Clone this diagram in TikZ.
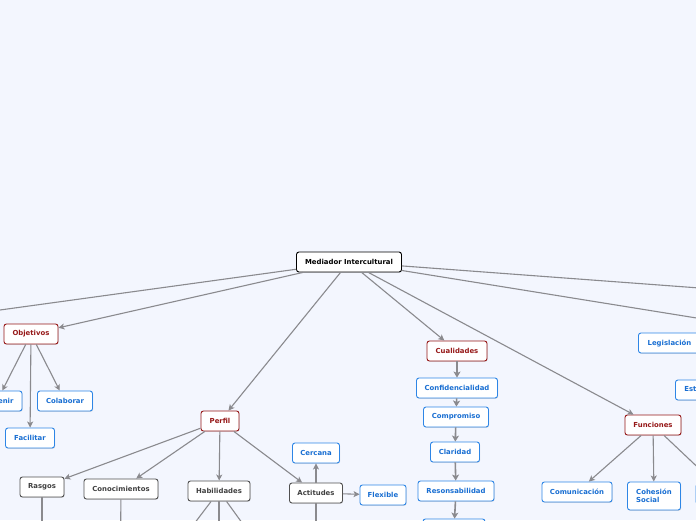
\documentclass[tikz,border=0pt]{standalone}
\usepackage{fontspec}
\setmainfont{DejaVu Sans}
\usetikzlibrary{arrows.meta,shadows}
\definecolor{bg}{RGB}{243,246,254}
\definecolor{edgec}{RGB}{138,138,142}
\definecolor{redc}{RGB}{150,24,24}
\definecolor{bluec}{RGB}{46,134,230}
\definecolor{bluet}{RGB}{24,110,210}
\definecolor{grayc}{RGB}{80,80,80}
\definecolor{grayt}{RGB}{64,64,64}
\tikzset{
  box/.style={draw, fill=white, rounded corners=2.5pt, line width=0.9pt,
    minimum height=20pt, inner xsep=4pt, inner ysep=2pt,
    font=\fontsize{6.9}{8.3}\selectfont\bfseries,
    drop shadow={shadow xshift=0.6pt, shadow yshift=-0.8pt, opacity=0.25}},
  rootbox/.style={box, draw=black, text=black},
  redbox/.style={box, draw=redc, text=redc},
  graybox/.style={box, draw=grayc, text=grayt},
  bluebox/.style={box, draw=bluec, text=bluet},
  edge/.style={draw=edgec, line width=1.1pt, -{Stealth[length=6pt,width=6pt,inset=1.5pt]}},
  plain/.style={draw=edgec, line width=1.1pt},
  chain/.style={draw=edgec, line width=1.6pt, -{Stealth[length=6pt,width=7pt,inset=1.5pt]}}
}
\begin{document}
\begin{tikzpicture}[x=1pt,y=-1pt]
\fill[bg] (0,0) rectangle (696,520);
\useasboundingbox (0,0) rectangle (696,520);
\clip (0,0) rectangle (696,520);

% nodes
\node[rootbox, minimum width=105pt] (med) at (349,262) {Mediador Intercultural};
\node[redbox, minimum width=54pt] (obj) at (31,334) {Objetivos};
\node[redbox, minimum width=38pt] (per) at (220,421) {Perfil};
\node[redbox, minimum width=60pt] (cua) at (457,351) {Cualidades};
\node[redbox, minimum width=56pt] (fun) at (653,425) {Funciones};

\node[bluebox, minimum width=50pt] (pre) at (-3,401) {Prevenir};
\node[bluebox, minimum width=55pt] (col) at (65,401) {Colaborar};
\node[bluebox, minimum width=49pt] (fac) at (30,438) {Facilitar};

\node[graybox, minimum width=44pt] (ras) at (42,487) {Rasgos};
\node[graybox, minimum width=74pt] (con) at (121,489) {Conocimientos};
\node[graybox, minimum width=62pt] (hab) at (219,491) {Habilidades};
\node[graybox, minimum width=53pt] (act) at (316,493) {Actitudes};
\node[bluebox, minimum width=47pt] (cer) at (316,453) {Cercana};
\node[bluebox, minimum width=46pt] (fle) at (383,495) {Flexible};

\node[bluebox, minimum width=81pt] (cnf) at (457,388) {Confidencialidad};
\node[bluebox, minimum width=65pt] (cmp) at (456,417) {Compromiso};
\node[bluebox, minimum width=49pt] (cla) at (455,452) {Claridad};
\node[bluebox, minimum width=76pt] (res) at (456,491) {Resonsabilidad};
\node[bluebox, minimum width=62pt] (nxt) at (454,529) {};

\node[bluebox, minimum width=70pt] (com) at (577,492) {Comunicación};
\node[bluebox, minimum width=53pt, minimum height=28pt, align=left] (coh) at (654,496) {Cohesión\\Social};
\node[bluebox, minimum width=62pt, anchor=west] (leg) at (638,343) {Legislación};
\node[bluebox, minimum width=62pt, anchor=west] (est) at (675,390) {Estrategias};
\node[bluebox, minimum width=60pt, anchor=west] (fun3) at (695.5,494) {\phantom{X}};

% off-picture ends
\coordinate (L) at (-40,315.5);
\coordinate (R1) at (740,291);
\coordinate (R2) at (740,325);
\coordinate (rasD) at (42,545);
\coordinate (conD) at (120.5,545);
\coordinate (habD1) at (175,549);
\coordinate (habD2) at (219,549);
\coordinate (habD3) at (261,549);
\coordinate (actD) at (316,545);

% connectors
\draw[edge] (med) -- (L);
\draw[edge] (med) -- (obj);
\draw[edge] (med) -- (per);
\draw[edge] (med) -- (cua);
\draw[edge] (med) -- (fun);
\draw[edge] (med) -- (R1);
\draw[edge] (med) -- (R2);

\draw[edge] (obj) -- (pre);
\draw[edge] (obj) -- (col);
\draw[edge] (obj) -- (fac);

\draw[edge] (per) -- (ras);
\draw[edge] (per) -- (con);
\draw[edge] (per) -- (hab);
\draw[edge] (per) -- (act);
\draw[edge] (act) -- (cer);
\draw[edge] (act) -- (fle);

\draw[plain] (ras) -- (rasD);
\draw[plain] (con) -- (conD);
\draw[plain] (hab) -- (habD1);
\draw[plain] (hab) -- (habD2);
\draw[plain] (hab) -- (habD3);
\draw[plain] (act) -- (actD);

\draw[chain] (cua) -- (cnf);
\draw[chain] (cnf) -- (cmp);
\draw[chain] (cmp) -- (cla);
\draw[chain] (cla) -- (res);
\draw[chain] (res) -- (nxt);

\draw[edge] (fun) -- (com);
\draw[edge] (fun) -- (coh);
\draw[edge] (fun) -- (fun3);
\end{tikzpicture}
\end{document}
